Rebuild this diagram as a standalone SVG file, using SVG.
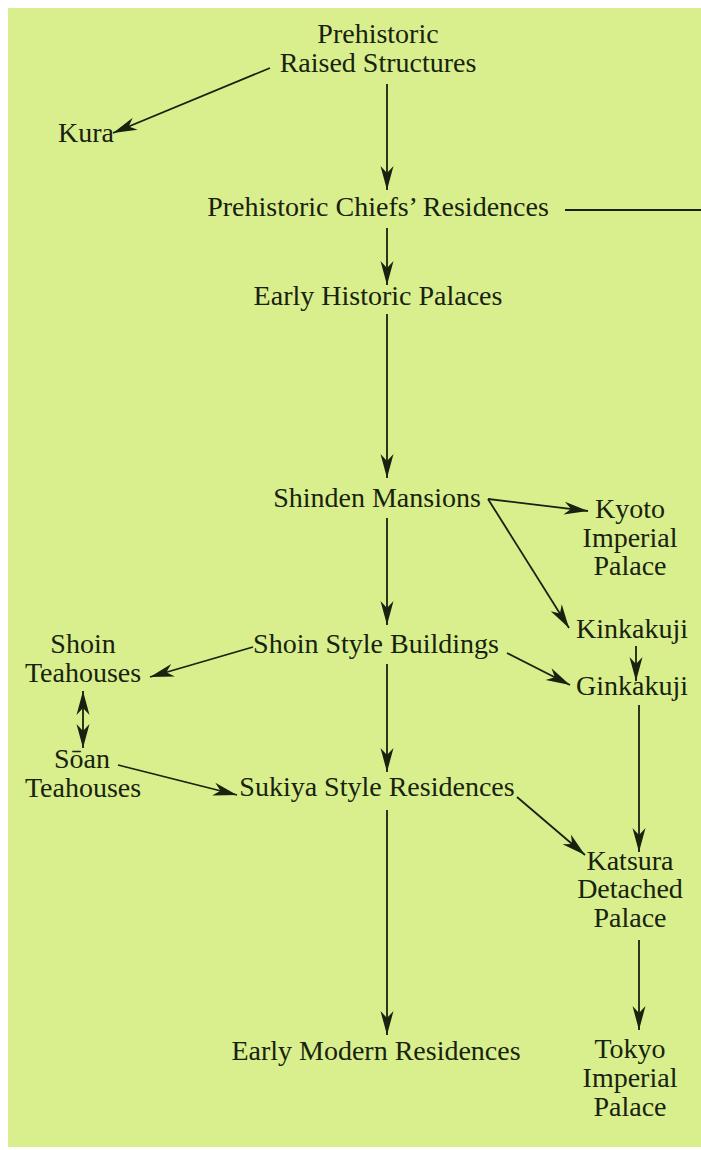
<svg xmlns="http://www.w3.org/2000/svg" width="701" height="1150" viewBox="0 0 701 1150">
<defs>
<style>
text{font-family:"Liberation Serif","Times New Roman",serif;font-size:28px;fill:#17220f}
.m{text-anchor:middle}
.c line,.c path{stroke:#17220f;stroke-width:1.8;fill:none}
</style>
<marker id="ah" viewBox="-26 -8 28 16" markerWidth="28" markerHeight="16" refX="0" refY="0" orient="auto-start-reverse" markerUnits="userSpaceOnUse">
<path d="M0,0 L-24,-6.5 L-17,0 L-24,6.5 Z" fill="#17220f"/>
</marker>
</defs>
<rect x="0" y="0" width="701" height="1150" fill="#ffffff"/>
<rect x="8" y="8" width="693" height="1139" fill="#d9ef8d"/>

<g id="prehistoric-raised"><text class="m" x="378" y="43">Prehistoric</text><text class="m" x="378" y="72">Raised Structures</text></g>
<g id="kura"><text x="58" y="142">Kura</text></g>
<g id="chiefs"><text class="m" x="378" y="216">Prehistoric Chiefs’ Residences</text></g>
<g id="early-historic"><text class="m" x="378" y="305">Early Historic Palaces</text></g>
<g id="shinden"><text class="m" x="377" y="507">Shinden Mansions</text></g>
<g id="kyoto"><text class="m" x="630" y="518">Kyoto</text><text class="m" x="630" y="547">Imperial</text><text class="m" x="630" y="575">Palace</text></g>
<g id="kinkakuji"><text class="m" x="632" y="638">Kinkakuji</text></g>
<g id="ginkakuji"><text class="m" x="632" y="695">Ginkakuji</text></g>
<g id="shoin-style"><text class="m" x="376" y="653">Shoin Style Buildings</text></g>
<g id="shoin-teahouses"><text class="m" x="83" y="653">Shoin</text><text class="m" x="83" y="682">Teahouses</text></g>
<g id="soan-teahouses"><text class="m" x="82" y="768">Sōan</text><text class="m" x="83" y="797">Teahouses</text></g>
<g id="sukiya"><text class="m" x="377" y="796">Sukiya Style Residences</text></g>
<g id="katsura"><text class="m" x="630" y="870">Katsura</text><text class="m" x="630" y="898">Detached</text><text class="m" x="630" y="927">Palace</text></g>
<g id="early-modern"><text class="m" x="376" y="1060">Early Modern Residences</text></g>
<g id="tokyo"><text class="m" x="630" y="1058">Tokyo</text><text class="m" x="630" y="1087">Imperial</text><text class="m" x="630" y="1116">Palace</text></g>

<g id="connectors" class="c">
<line x1="270" y1="68" x2="113" y2="133" marker-end="url(#ah)"/>
<line x1="387" y1="84" x2="387" y2="190" marker-end="url(#ah)"/>
<line x1="565" y1="210" x2="701" y2="210"/>
<line x1="387" y1="228" x2="387" y2="285" marker-end="url(#ah)"/>
<line x1="387" y1="314" x2="387" y2="478" marker-end="url(#ah)"/>
<line x1="488" y1="499" x2="588" y2="511" marker-end="url(#ah)"/>
<line x1="488" y1="499" x2="569" y2="628" marker-end="url(#ah)"/>
<line x1="387" y1="518" x2="387" y2="625" marker-end="url(#ah)"/>
<line x1="636" y1="646" x2="636" y2="681" marker-end="url(#ah)"/>
<line x1="253" y1="647" x2="150" y2="677" marker-end="url(#ah)"/>
<line x1="507" y1="653" x2="570" y2="685" marker-end="url(#ah)"/>
<line x1="83" y1="691" x2="83" y2="748" marker-start="url(#ah)" marker-end="url(#ah)"/>
<line x1="387" y1="664" x2="387" y2="772" marker-end="url(#ah)"/>
<line x1="118" y1="765" x2="237" y2="795" marker-end="url(#ah)"/>
<line x1="517" y1="797" x2="585" y2="855" marker-end="url(#ah)"/>
<line x1="639" y1="705" x2="639" y2="852" marker-end="url(#ah)"/>
<line x1="387" y1="810" x2="387" y2="1035" marker-end="url(#ah)"/>
<line x1="639" y1="940" x2="639" y2="1030" marker-end="url(#ah)"/>
</g>
</svg>
